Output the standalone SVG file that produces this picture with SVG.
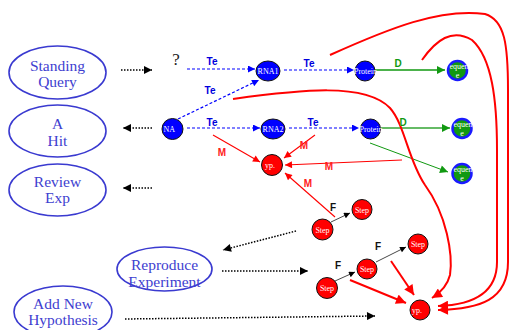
<svg xmlns="http://www.w3.org/2000/svg" width="511" height="330" viewBox="0 0 511 330">
<style>
.ell{fill:#fff;stroke:#3a3ad0;stroke-width:1.6}
.et{font-family:"Liberation Serif",serif;font-size:15.5px;fill:#4040d0;text-anchor:middle}
.bn{fill:#0000ff;stroke:#111;stroke-width:1}
.gn{fill:#119911;stroke:#1a1aff;stroke-width:2.5}
.rn{fill:#ff0000;stroke:#111;stroke-width:1}
.nt{font-family:"Liberation Serif",serif;font-size:8px;fill:#fff;text-anchor:middle}
.lb{font-family:"Liberation Sans",Arial,sans-serif;font-size:10px;font-weight:bold;text-anchor:middle}
.te{fill:#0000dd}.dl{fill:#119911}.ml{fill:#ff2020}.fl{fill:#111}
.blue{stroke:#0000ff;stroke-width:1.2;stroke-dasharray:3,2;fill:none;marker-end:url(#aB)}
.dot{stroke:#000;stroke-width:1.5;stroke-dasharray:1.5,1.5;fill:none;marker-end:url(#aK)}
.red{stroke:#ff0000;stroke-width:1.1;fill:none;marker-end:url(#aR)}
.redT{stroke:#ff0000;stroke-width:2;fill:none;marker-end:url(#aRB)}
.redC{stroke:#ff0000;stroke-width:2;fill:none}
.blk{stroke:#333;stroke-width:0.9;fill:none;marker-end:url(#aF)}
</style>
<defs>
<marker id="aB" viewBox="0 0 10 10" refX="10" refY="5" markerUnits="userSpaceOnUse" markerWidth="8" markerHeight="7" orient="auto"><path d="M0,0L10,5L0,10z" fill="#0000ff"/></marker>
<marker id="aG" viewBox="0 0 10 10" refX="10" refY="5" markerUnits="userSpaceOnUse" markerWidth="9" markerHeight="8" orient="auto"><path d="M0,0L10,5L0,10z" fill="#119911"/></marker>
<marker id="aK" viewBox="0 0 10 10" refX="10" refY="5" markerUnits="userSpaceOnUse" markerWidth="9" markerHeight="8" orient="auto"><path d="M0,0L10,5L0,10z" fill="#000"/></marker>
<marker id="aR" viewBox="0 0 10 10" refX="10" refY="5" markerUnits="userSpaceOnUse" markerWidth="9" markerHeight="7" orient="auto"><path d="M0,0L10,5L0,10z" fill="#ff0000"/></marker>
<marker id="aRB" viewBox="0 0 10 10" refX="10" refY="5" markerUnits="userSpaceOnUse" markerWidth="12" markerHeight="10" orient="auto"><path d="M0,0L10,5L0,10z" fill="#ff0000"/></marker>
<marker id="aF" viewBox="0 0 10 10" refX="10" refY="5" markerUnits="userSpaceOnUse" markerWidth="8" markerHeight="6" orient="auto"><path d="M0,0L10,5L0,10z" fill="#000"/></marker>
</defs>
<rect width="511" height="330" fill="#fff"/>

<g id="connectors">
<!-- dotted black -->
<line class="dot" x1="121" y1="70" x2="152" y2="70"/>
<line class="dot" x1="152" y1="128" x2="123" y2="128"/>
<line class="dot" x1="152" y1="188" x2="123" y2="188"/>
<line class="dot" x1="296" y1="231" x2="223" y2="250"/>
<line class="dot" x1="222" y1="271" x2="308" y2="271"/>
<line class="dot" x1="125" y1="319" x2="375" y2="316"/>
<!-- blue Te -->
<line class="blue" x1="187" y1="69" x2="255" y2="69"/>
<line class="blue" x1="178" y1="119" x2="259" y2="80"/>
<line class="blue" x1="187" y1="128" x2="260" y2="128"/>
<line class="blue" x1="284" y1="70" x2="354" y2="70"/>
<line class="blue" x1="289" y1="128" x2="359" y2="128"/>
<!-- green D -->
<line x1="375" y1="70" x2="445" y2="70" stroke="#119911" stroke-width="1.3" marker-end="url(#aG)"/>
<line x1="381" y1="128" x2="450" y2="128" stroke="#66bb66" stroke-width="2" marker-end="url(#aG)"/>
<line x1="370" y1="143" x2="448" y2="172" stroke="#119911" stroke-width="1" marker-end="url(#aG)"/>
<!-- red M -->
<line class="red" x1="213" y1="135" x2="260" y2="162"/>
<line class="red" x1="315" y1="135" x2="284" y2="158"/>
<line class="red" x1="402" y1="160" x2="285" y2="165"/>
<line class="red" x1="335" y1="217" x2="285" y2="173"/>
<!-- black F -->
<line class="blk" x1="331" y1="222" x2="350" y2="213"/>
<line class="blk" x1="335" y1="281" x2="355" y2="272"/>
<line class="blk" x1="376" y1="262" x2="406" y2="247"/>
<!-- red thick to hyp -->
<line class="redT" x1="391" y1="261" x2="414" y2="295"/>
<line class="redT" x1="350" y1="280" x2="406" y2="303"/>
<!-- red curves -->
<path class="redT" d="M330,55 C390,28 440,8 485,14 C505,20 508,45 508,90 L508,262 C508,300 480,309 438,310"/>
<path class="redT" d="M422,60 C436,40 452,28 472,40 C492,58 497,100 497,150 L497,262 C497,295 470,305 438,306"/>
<path class="redT" d="M233,99 C300,90 365,82 390,108 C405,125 408,160 425,185 C447,215 453,255 450,275 C447,287 440,293 432,298"/>
</g>

<g id="labels">
<text class="lb te" x="212" y="65">Te</text>
<text class="lb te" x="210" y="94">Te</text>
<text class="lb te" x="212" y="126">Te</text>
<text class="lb te" x="309" y="67">Te</text>
<text class="lb te" x="313" y="126">Te</text>
<text class="lb dl" x="398" y="67">D</text>
<text class="lb dl" x="403" y="126">D</text>
<text class="lb ml" x="222" y="156">M</text>
<text class="lb ml" x="304" y="149">M</text>
<text class="lb ml" x="329" y="170">M</text>
<text class="lb ml" x="308" y="187">M</text>
<text class="lb fl" x="333" y="211">F</text>
<text class="lb fl" x="338" y="269">F</text>
<text class="lb fl" x="378" y="250">F</text>
<text x="176" y="65" font-family="Liberation Serif,serif" font-size="17" fill="#222" text-anchor="middle">?</text>
</g>

<g id="standing-query"><ellipse class="ell" cx="57.5" cy="72.5" rx="48.5" ry="26.5"/><text class="et" x="57.5" y="71">Standing</text><text class="et" x="57.5" y="87">Query</text></g>
<g id="a-hit"><ellipse class="ell" cx="57.5" cy="131" rx="48.5" ry="26"/><text class="et" x="57.5" y="129">A</text><text class="et" x="57.5" y="146">Hit</text></g>
<g id="review-exp"><ellipse class="ell" cx="57.5" cy="190" rx="48.5" ry="26"/><text class="et" x="57.5" y="187">Review</text><text class="et" x="57.5" y="203">Exp</text></g>
<g id="reproduce"><ellipse class="ell" cx="164.5" cy="269" rx="47.5" ry="22"/><text class="et" x="164.5" y="270">Reproduce</text><text class="et" x="164.5" y="287">Experiment</text></g>
<g id="add-new"><ellipse class="ell" cx="63" cy="312" rx="49" ry="26"/><text class="et" x="63" y="309">Add New</text><text class="et" x="63" y="325">Hypothesis</text></g>

<g id="na"><circle class="bn" cx="172.5" cy="129" r="10.5"/><text class="nt" x="163.5" y="132" style="text-anchor:start">NA</text></g>
<g id="rna1"><ellipse class="bn" cx="268" cy="71" rx="12" ry="10"/><text class="nt" x="268" y="74">RNA1</text></g>
<g id="rna2"><ellipse class="bn" cx="273" cy="129" rx="12" ry="10"/><text class="nt" x="273" y="132">RNA2</text></g>
<g id="protein1"><circle class="bn" cx="365" cy="71" r="10"/><text class="nt" x="365.5" y="74" font-size="7.5">Protein</text></g>
<g id="protein2"><circle class="bn" cx="370.5" cy="129" r="10"/><text class="nt" x="371" y="132" font-size="7.5">Protein</text></g>
<g id="seq1"><circle class="gn" cx="457.5" cy="70.5" r="9.5"/><text class="nt" x="459" y="69">equen</text><text class="nt" x="457.5" y="78">e</text></g>
<g id="seq2"><circle class="gn" cx="462" cy="128.5" r="9.5"/><text class="nt" x="463" y="127">equen</text><text class="nt" x="462" y="136">e</text></g>
<g id="seq3"><circle class="gn" cx="462" cy="173.5" r="9.5"/><text class="nt" x="463" y="172">equen</text><text class="nt" x="462" y="181">e</text></g>
<g id="hyp1"><circle class="rn" cx="272" cy="165" r="10.5"/><text class="nt" x="265" y="168" style="text-anchor:start">yp.</text></g>
<g id="step-a"><circle class="rn" cx="322.5" cy="229.5" r="10.5"/><text class="nt" x="322.5" y="232.5">Step</text></g>
<g id="step-b"><circle class="rn" cx="362" cy="209.5" r="10"/><text class="nt" x="362" y="212.5">Step</text></g>
<g id="step-c"><circle class="rn" cx="418" cy="244" r="10"/><text class="nt" x="418" y="247">Step</text></g>
<g id="step-d"><circle class="rn" cx="367" cy="269" r="10"/><text class="nt" x="367" y="272">Step</text></g>
<g id="step-e"><circle class="rn" cx="327" cy="288" r="10.5"/><text class="nt" x="327" y="291">Step</text></g>
<g id="hyp2"><circle class="rn" cx="420" cy="310" r="10"/><text class="nt" x="412" y="313" style="text-anchor:start">yp.</text></g>
</svg>
